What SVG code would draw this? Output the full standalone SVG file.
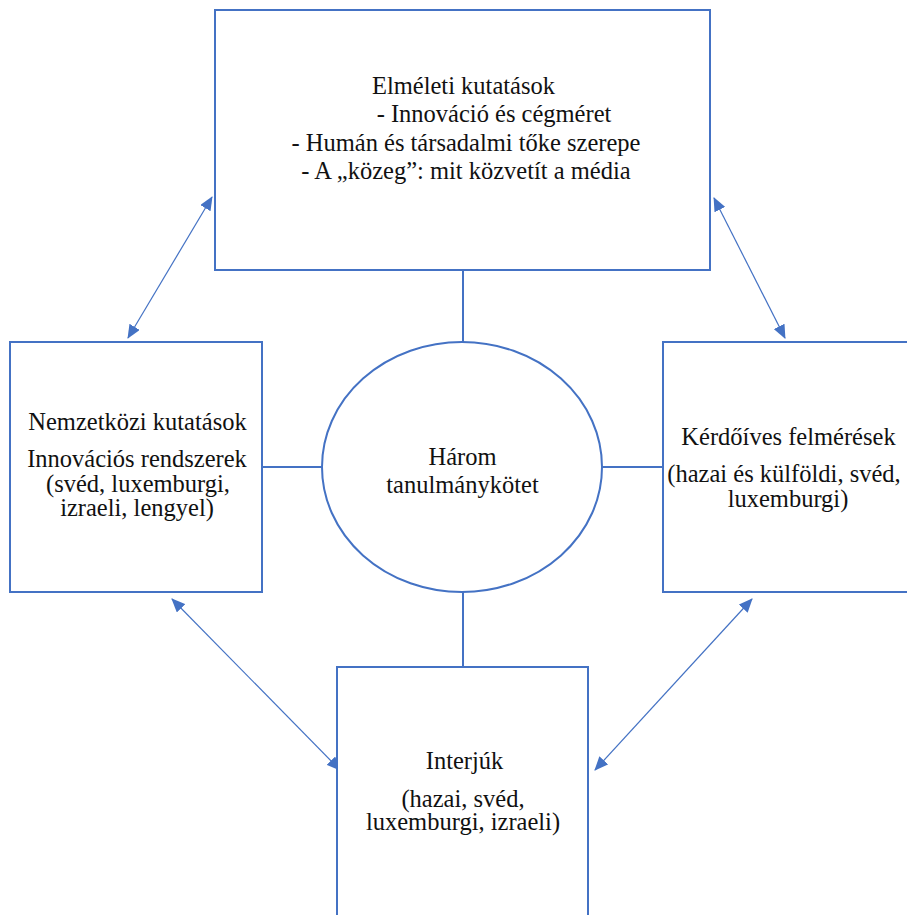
<svg xmlns="http://www.w3.org/2000/svg" width="907" height="915" viewBox="0 0 907 915">
<defs>
<style>
.box{fill:#fff;stroke:#4472C4;stroke-width:2}
.link{stroke:#4472C4;stroke-width:2;fill:none}
.arr{stroke:#4472C4;stroke-width:1.2;fill:none;marker-start:url(#ah);marker-end:url(#ah)}
.t{font-family:'Liberation Serif','DejaVu Serif',serif;font-size:24.5px;fill:#111;text-anchor:middle}
</style>
<marker id="ah" viewBox="0 0 14 12" refX="13" refY="6" markerWidth="14" markerHeight="12" markerUnits="userSpaceOnUse" orient="auto-start-reverse">
<path d="M0,0 L14,6 L0,12 Z" fill="#4472C4"/>
</marker>
</defs>
<rect width="907" height="915" fill="#fff"/>
<g id="connectors">
<line class="link" x1="463" y1="270" x2="463" y2="342"/>
<line class="link" x1="262" y1="467" x2="322" y2="467"/>
<line class="link" x1="602" y1="467" x2="663" y2="467"/>
<line class="link" x1="463" y1="592" x2="463" y2="667"/>
<line class="arr" x1="212" y1="197" x2="128" y2="338"/>
<line class="arr" x1="714" y1="198" x2="785" y2="338"/>
<line class="arr" x1="172" y1="599" x2="340" y2="770"/>
<line class="arr" x1="752" y1="599" x2="595" y2="770"/>
</g>
<g id="top" class="t" font-family="Liberation Serif, serif">
<rect class="box" x="215" y="10" width="495" height="260"/>
<text class="t" x="463.5" y="94">Elméleti  kutatások</text>
<text class="t" x="494" y="122">- Innováció és cégméret</text>
<text class="t" x="466" y="151">- Humán és társadalmi tőke szerepe</text>
<text class="t" x="466" y="179">- A „közeg”: mit közvetít a média</text>
</g>
<g id="left" class="t" font-family="Liberation Serif, serif">
<rect class="box" x="10" y="342" width="252" height="250"/>
<text class="t" x="137.5" y="430">Nemzetközi kutatások</text>
<text class="t" x="137" y="467">Innovációs rendszerek</text>
<text class="t" x="138" y="492">(svéd, luxemburgi,</text>
<text class="t" x="137" y="516">izraeli,  lengyel)</text>
</g>
<g id="center" class="t" font-family="Liberation Serif, serif">
<ellipse class="box" cx="462" cy="467" rx="140" ry="125"/>
<text class="t" x="462.5" y="465">Három</text>
<text class="t" x="462.5" y="493">tanulmánykötet</text>
</g>
<g id="right" class="t" font-family="Liberation Serif, serif">
<rect class="box" x="663" y="342" width="260" height="250"/>
<text class="t" x="788.5" y="445">Kérdőíves felmérések</text>
<text class="t" x="784" y="482">(hazai és külföldi,  svéd,</text>
<text class="t" x="788" y="507">luxemburgi)</text>
</g>
<g id="bottom" class="t" font-family="Liberation Serif, serif">
<rect class="box" x="337" y="667" width="251" height="270"/>
<text class="t" x="464.5" y="769">Interjúk</text>
<text class="t" x="463" y="807">(hazai,  svéd,</text>
<text class="t" x="463" y="830">luxemburgi, izraeli)</text>
</g>
</svg>
